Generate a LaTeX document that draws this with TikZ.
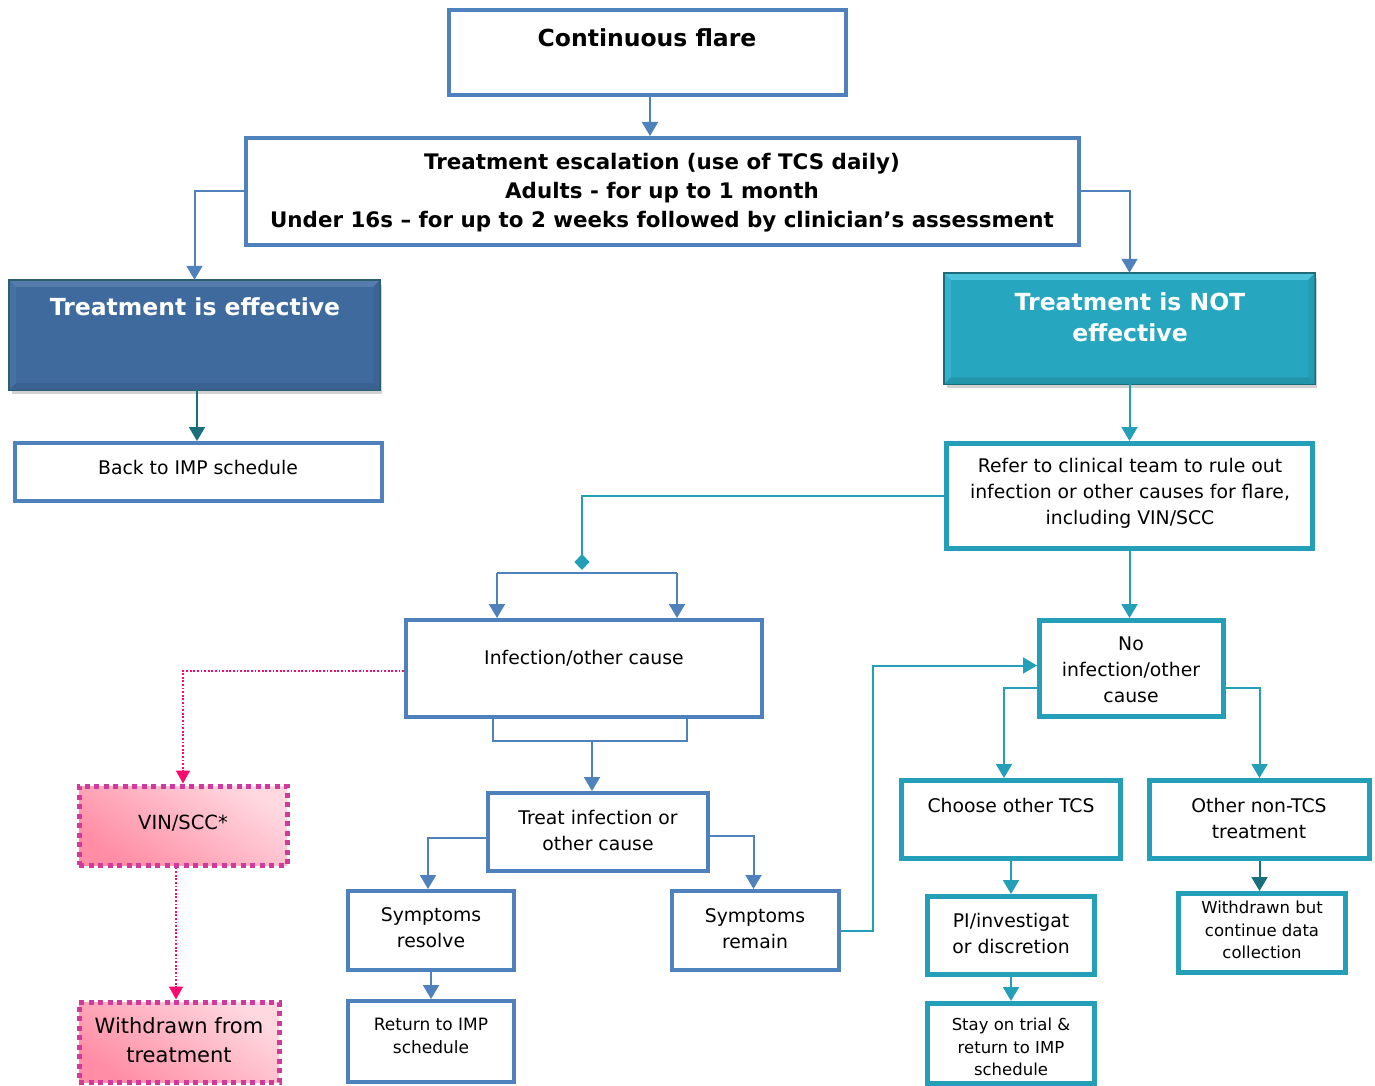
\documentclass[tikz,border=0pt]{standalone}
\usepackage{fontspec}
\setmainfont{DejaVu Sans}
\usetikzlibrary{arrows.meta,calc,shadows}
\definecolor{blueC}{HTML}{4F81BD}
\definecolor{tealC}{HTML}{23A0B7}
\definecolor{dteal}{HTML}{1A6F7D}
\definecolor{effFill}{HTML}{3F6A9D}
\definecolor{effLine}{HTML}{2C5F6E}
\definecolor{effHi}{HTML}{567CAE}
\definecolor{effLo}{HTML}{39608F}
\definecolor{notFill}{HTML}{27A7BF}
\definecolor{notLine}{HTML}{1E6C7A}
\definecolor{notHi}{HTML}{4CC3D8}
\definecolor{notLo}{HTML}{2295AA}
\definecolor{pinkB}{HTML}{D1399A}
\definecolor{pinkL}{HTML}{FF0A6C}
\definecolor{pinkD}{HTML}{FF8DA5}
\definecolor{pinkU}{HTML}{FFD8E0}
\tikzset{
  bbox/.style={draw=blueC, line width=4pt, fill=white, rectangle, inner sep=0pt},
  tbox/.style={draw=tealC, line width=5pt, fill=white, rectangle, inner sep=0pt},
  fancy/.style={rectangle, inner sep=0pt, line width=1.5pt, drop shadow={shadow xshift=2pt, shadow yshift=-4pt, opacity=0.35}},
  pbox/.style={rectangle, inner sep=0pt, draw=pinkB, line width=5pt, dash pattern=on 5pt off 4.5pt,
     top color=pinkU, bottom color=pinkD, shading angle=-35},
  txt/.style={align=center, inner sep=0pt, font=\fontsize{18.8}{26}\selectfont},
  small/.style={align=center, inner sep=0pt, font=\fontsize{16.5}{22.5}\selectfont},
  btxt/.style={align=center, inner sep=0pt, font=\bfseries\fontsize{21.4}{29}\selectfont},
  wtxt/.style={align=center, inner sep=0pt, text=white, font=\bfseries\fontsize{23.5}{31}\selectfont},
  conn/.style={draw=blueC, line width=2pt, -{Triangle[width=16pt,length=14pt]}},
  tconn/.style={draw=tealC, line width=2pt, -{Triangle[width=16pt,length=14pt]}},
  dconn/.style={draw=dteal, line width=2pt, -{Triangle[width=16pt,length=14pt]}},
  pconn/.style={draw=pinkL, line width=1.8pt, dash pattern=on 1.8pt off 1.8pt, -{Triangle[width=14pt,length=13pt,fill=pinkL]}},
}
\begin{document}
\begin{tikzpicture}[x=1pt,y=-1pt]
\useasboundingbox (0,0) rectangle (1375,1086);
\fill[white] (0,0) rectangle (1375,1086);

% boxes
\node[bbox, minimum width=397pt, minimum height=85pt] (cf) at (647.5,52.5) {};
\node[bbox, minimum width=833pt, minimum height=107pt] (esc) at (662.5,191.5) {};
\node[fancy, fill=effFill, draw=effLine, minimum width=370pt, minimum height=109pt] (eff) at (194.5,335) {};
\node[bbox, minimum width=367pt, minimum height=58pt] (back) at (198.5,472) {};
\node[fancy, fill=notFill, draw=notLine, minimum width=370pt, minimum height=110pt] (notb) at (1129.5,328.5) {};
\node[tbox, minimum width=366pt, minimum height=105pt] (refer) at (1129.5,496) {};
\node[bbox, minimum width=356pt, minimum height=97pt] (inf) at (584,668.5) {};
\node[bbox, minimum width=220pt, minimum height=78pt] (treat) at (598,832) {};
\node[bbox, minimum width=166pt, minimum height=79pt] (sres) at (431,930.5) {};
\node[bbox, minimum width=167pt, minimum height=79pt] (srem) at (755.5,930.5) {};
\node[bbox, minimum width=166pt, minimum height=81pt] (ret) at (431,1041.5) {};
\node[pbox, minimum width=208pt, minimum height=79pt] (vin) at (183,825.5) {};
\node[pbox, minimum width=200pt, minimum height=80pt] (wft) at (179,1042) {};
\node[tbox, minimum width=184pt, minimum height=96pt] (noinf) at (1131.5,668.5) {};
\node[tbox, minimum width=219pt, minimum height=78pt] (cho) at (1011,819.5) {};
\node[tbox, minimum width=220pt, minimum height=78pt] (oth) at (1259.5,819.5) {};
\node[tbox, minimum width=167pt, minimum height=78pt] (pi) at (1011,935.5) {};
\node[tbox, minimum width=167pt, minimum height=80pt] (stay) at (1011,1043.5) {};
\node[tbox, minimum width=167pt, minimum height=79pt] (wbut) at (1262,933) {};

% bevels on the two coloured boxes
\foreach \b/\hi/\lo in {eff/effHi/effLo, notb/notHi/notLo}{
  \fill[\hi] (\b.north west) -- (\b.north east) -- ($(\b.north east)+(-7,7)$) -- ($(\b.north west)+(7,7)$) -- cycle;
  \fill[\lo] (\b.south west) -- (\b.south east) -- ($(\b.south east)+(-7,-7)$) -- ($(\b.south west)+(7,-7)$) -- cycle;
  \fill[\hi, opacity=0.4] (\b.north west) -- (\b.south west) -- ($(\b.south west)+(7,-7)$) -- ($(\b.north west)+(7,7)$) -- cycle;
  \fill[\lo, opacity=0.6] (\b.north east) -- (\b.south east) -- ($(\b.south east)+(-7,-7)$) -- ($(\b.north east)+(-7,7)$) -- cycle;
}
\draw[effLine, line width=1.5pt] (eff.north west) rectangle (eff.south east);
\draw[notLine, line width=1.5pt] (notb.north west) rectangle (notb.south east);

% texts
\node[btxt, font=\bfseries\fontsize{23.5}{29}\selectfont] (cft) at (647,38) {Continuous flare};
\node[btxt] (esct) at (662,193) {Treatment escalation (use of TCS daily)\\Adults - for up to 1 month\\Under 16s -- for up to 2 weeks followed by clinician’s assessment};
\node[wtxt] (efft) at (195,307) {Treatment is effective};
\node[txt] (backt) at (198,467) {Back to IMP schedule};
\node[wtxt] (nott) at (1130,317) {Treatment is NOT\\effective};
\node[txt] (refert) at (1130,493) {Refer to clinical team to rule out\\infection or other causes for flare,\\including VIN/SCC};
\node[txt] (inft) at (584,658) {Infection/other cause};
\node[txt] (treatt) at (598,830) {Treat infection or\\other cause};
\node[txt] (srest) at (431,928) {Symptoms\\resolve};
\node[txt] (sremt) at (755,929) {Symptoms\\remain};
\node[small, font=\fontsize{17}{22.5}\selectfont] (rett) at (431,1036) {Return to IMP\\schedule};
\node[txt, font=\fontsize{19.5}{26}\selectfont] (vint) at (183,823) {VIN/SCC*};
\node[txt, font=\fontsize{21}{29}\selectfont] (wftt) at (179,1040) {Withdrawn from\\treatment};
\node[txt] (noinft) at (1131,670) {No\\infection/other\\cause};
\node[txt] (chot) at (1011,805) {Choose other TCS};
\node[txt] (otht) at (1259,818) {Other non-TCS\\treatment};
\node[txt] (pit) at (1011,933) {PI/investigat\\or discretion};
\node[small] (stayt) at (1011,1047) {Stay on trial \&\\return to IMP\\schedule};
\node[small] (wbutt) at (1262,930) {Withdrawn but\\continue data\\collection};

% coordinates for free ends
\coordinate (c1) at ($(cf.south)+(2.5,0)$);
\coordinate (c2) at ($(eff.south)+(2.5,0)$);
\coordinate (dm) at (582,570);
\coordinate (bkL) at (497,573);
\coordinate (bkR) at (677,573);
\coordinate (lbL) at (493,741);
\coordinate (lbR) at (687,741);
\coordinate (lbM) at (592,741);

% connectors
\draw[conn] (c1) -- (c1 |- esc.north);
\draw[conn] (esc.west) -| (eff.north);
\draw[conn] (esc.east) -| (notb.north);
\draw[dconn] (c2) -- (c2 |- back.north);
\draw[tconn] (notb.south) -- (refer.north);
\draw[draw=tealC, line width=2pt, -{Diamond[width=15pt,length=16pt]}] (refer.west) -| (dm);
\draw[draw=blueC, line width=2pt] (bkL) -- (bkR);
\draw[conn] (bkL) -- (inf.north -| bkL);
\draw[conn] (bkR) -- (inf.north -| bkR);
\draw[draw=blueC, line width=2pt] (inf.south -| lbL) -- (lbL) -- (lbR) -- (inf.south -| lbR);
\draw[conn] (lbM) -- (treat.north -| lbM);
\draw[conn] ($(treat.west)+(0,6)$) -| ($(sres.north)+(-3,0)$);
\draw[conn] ($(treat.east)+(0,4)$) -| ($(srem.north)+(-2,0)$);
\draw[conn] (sres.south) -- (ret.north);
\draw[tconn] (srem.east) -- ++(32,0) |- ($(noinf.west)+(0,-3)$);
\draw[tconn] (refer.south) -- (refer.south |- noinf.north);
\draw[tconn] ($(noinf.west)+(0,19)$) -| ($(cho.north)+(-7,0)$);
\draw[tconn] ($(noinf.east)+(0,19)$) -| (oth.north);
\draw[tconn] (cho.south) -- (pi.north);
\draw[tconn] (pi.south) -- (stay.north);
\draw[dconn] (oth.south) -- (oth.south |- wbut.north);
\draw[pconn] ($(inf.west)+(0,2.5)$) -| (vin.north);
\draw[pconn] ($(vin.south)+(-7,0)$) -- ($(wft.north)+(-3,0)$);
\end{tikzpicture}
\end{document}
